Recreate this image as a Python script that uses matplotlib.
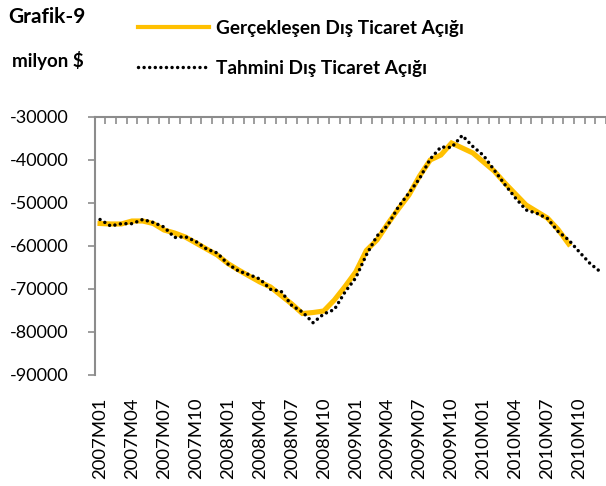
import numpy as np
import matplotlib
matplotlib.use("Agg")
import matplotlib.pyplot as plt
from matplotlib.lines import Line2D

plt.rcParams['font.family'] = ['Lato', 'DejaVu Sans']
plt.rcParams['axes.unicode_minus'] = False

# aylar: 2007M01 .. 2010M12
months = [f"{y}M{m:02d}" for y in range(2007, 2011) for m in range(1, 13)]

# gerçekleşen dış ticaret açığı (milyon $), 2007M01 .. 2010M09
actual = [-54770, -54880, -54880, -54190, -54190, -54770, -56280, -56980,
          -57910, -59300, -60700, -62090, -64070, -65580, -66980, -68370,
          -69530, -71510, -73490, -75700, -75470, -75120, -72560, -69420,
          -66050, -61050, -58600, -54880, -51400, -48140, -43720, -40000,
          -38840, -36050, -37210, -38370, -40470, -42560, -45350, -47910,
          -50470, -51980, -53490, -56160, -59530]

# tahmini dış ticaret açığı (milyon $), 2007M01 .. 2010M12
forecast = [-53840, -55350, -54810, -54810, -53840, -54530, -55580, -58020,
            -57840, -58950, -60700, -61630, -64190, -65810, -66670, -67670,
            -70070, -70530, -73840, -75350, -77840, -75810, -74770, -70700,
            -67440, -62090, -57670, -55230, -50930, -47670, -44300, -39770,
            -36980, -37090, -34300, -36860, -38950, -42330, -45700, -48840,
            -51630, -52400, -53600, -56630, -58600, -61400, -64070, -66050]

yticks = [-30000, -40000, -50000, -60000, -70000, -80000, -90000]

ORANGE = '#FFC000'
DOTS = (0, (0.01, 1.6))

fig = plt.figure(figsize=(6.06, 4.86), dpi=100)
ax = fig.add_axes([0.1563, 0.2284, 0.8437, 0.5309])

x_act = np.arange(len(actual))
x_fc = np.arange(len(forecast))

ax.plot(x_act, actual, color=ORANGE, lw=3.7, solid_joinstyle='miter', zorder=2)
ax.plot(x_fc, forecast, color='black', lw=2.5, linestyle=DOTS,
        dash_capstyle='round', zorder=3)

ax.set_xlim(-0.5, len(months) - 0.5)
ax.set_ylim(-90000, -30000)

axis_col = '#8c8c8c'
for side in ['right', 'bottom']:
    ax.spines[side].set_visible(False)
for side in ['left', 'top']:
    ax.spines[side].set_color(axis_col)
    ax.spines[side].set_linewidth(1.5)

ax.set_yticks(yticks)
ax.set_yticklabels([str(v) for v in yticks])
ax.tick_params(axis='y', direction='out', length=5, width=1.2, color=axis_col,
               labelsize=13, pad=14)

# etiketler 3 ayda bir, alt tarafta
lab_idx = list(range(0, len(months), 3))
ax.set_xticks(lab_idx)
ax.set_xticklabels([months[i] for i in lab_idx], rotation=90, fontsize=13.3)
ax.tick_params(axis='x', which='major', length=0, pad=16)

# üst eksende her ay arası küçük çentik
ax.set_xticks(np.arange(-0.5, len(months), 1.0), minor=True)
ax.tick_params(axis='x', which='minor', top=True, bottom=False, direction='in',
               length=5, width=1.2, color=axis_col)

fig.text(0.013, 0.965, 'Grafik-9', fontsize=15, fontweight='bold', va='center')
fig.text(0.02, 0.8765, 'milyon $', fontsize=13.5, fontweight='bold', va='center')

handles = [Line2D([0], [0], color=ORANGE, lw=3.0),
           Line2D([0], [0], color='black', lw=2.5, linestyle=DOTS,
                  dash_capstyle='round')]
fig.legend(handles, ['Gerçekleşen Dış Ticaret Açığı', 'Tahmini Dış Ticaret Açığı'],
           loc='upper left', bbox_to_anchor=(0.228, 0.959), frameon=False,
           borderpad=0, borderaxespad=0,
           handlelength=3.7, handletextpad=0.37, labelspacing=1.19,
           prop={'weight': 'bold', 'size': 13.7})

fig.savefig('out.png', dpi=100, facecolor='white')
